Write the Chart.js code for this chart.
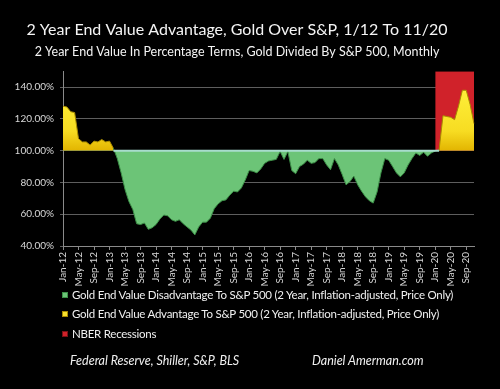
<!DOCTYPE html>
<html>
<head>
<meta charset="utf-8">
<script src="https://cdn.jsdelivr.net/npm/chart.js@4.4.1/dist/chart.umd.min.js"></script>
<style>
  html, body { margin: 0; padding: 0; background: #000; }
  #wrap { position: relative; width: 500px; height: 389px; background: #000; overflow: hidden; }
  #chart { position: absolute; left: 0; top: 0; }
  .leg { position: absolute; left: 62px; font: 11.5px Lato, sans-serif; letter-spacing: -0.25px; color: #f0f0f0; white-space: nowrap; line-height: 14px; }
  .leg i { display: inline-block; width: 6px; height: 6px; margin-right: 4px; vertical-align: 1px; box-sizing: border-box; }
  .foot { position: absolute; top: 353px; font: italic 12.5px Lato, sans-serif; color: #f0f0f0; white-space: nowrap; }
</style>
</head>
<body>
<div id="wrap">
  <canvas id="chart" width="500" height="389"></canvas>
  <div class="leg" style="top:288px"><i style="background:#6cc477;border:1px solid #3c8f47"></i>Gold End Value Disadvantage To S&amp;P 500 (2 Year, Inflation-adjusted, Price Only)</div>
  <div class="leg" style="top:307px"><i style="background:#f7e12e;border:1px solid #a88a00"></i>Gold End Value Advantage To S&amp;P 500 (2 Year, Inflation-adjusted, Price Only)</div>
  <div class="leg" style="top:327px"><i style="background:#d0222a;border:1px solid #7a1015"></i>NBER Recessions</div>
  <div class="foot" style="left:70px">Federal Reserve, Shiller, S&amp;P, BLS</div>
  <div class="foot" style="left:312px">Daniel Amerman.com</div>
</div>
<script>
// months Jan-12 .. Nov-20
var monthNames = ['Jan', 'Feb', 'Mar', 'Apr', 'May', 'Jun', 'Jul', 'Aug', 'Sep', 'Oct', 'Nov', 'Dec'];
var years = ['12', '13', '14', '15', '16', '17', '18', '19', '20'];
var labels = [];
years.forEach(function (y) {
    monthNames.forEach(function (m) { labels.push(m + '-' + y); });
});
labels = labels.slice(0, labels.indexOf('Nov-20') + 1);

// gold / S&P 500 2 year end value, percent
var endValue = [
    128, 127.5, 124.5, 124, 107.5, 105.5, 105.5, 103.5, 106, 105.5, 107, 105.5,
    106, 101.5, 95, 86, 75.5, 68, 63, 54, 53.5, 54.5, 50.5, 51.5,
    53.5, 57, 59.5, 59, 56.5, 55.5, 56.5, 54, 52, 50, 47, 52,
    55, 55, 57.5, 63.5, 66.5, 68.5, 69, 72, 74.5, 74, 76.5, 81.5,
    87.5, 87, 86, 88.5, 92, 93.5, 94, 94.5, 99.5, 94.5, 99.5, 87.5,
    85.5, 90, 91.5, 94, 92, 92.5, 95, 95, 91, 88, 95, 91,
    85, 78.5, 80.5, 84, 78.5, 74.5, 71, 68.5, 67, 74, 86, 95,
    94, 90, 86, 83.5, 86, 91, 95, 98.5, 97, 99, 96.5, 98.5,
    99.8, 100.5, 122, 121.5, 121, 119.5, 128, 138, 138, 129, 117
];

var recessionMonths = ['Jan-20', 'Feb-20', 'Mar-20', 'Apr-20', 'May-20', 'Jun-20', 'Jul-20', 'Aug-20', 'Sep-20', 'Oct-20', 'Nov-20'];
var recessionTop = 150;
var recession = labels.map(function (l) { return recessionMonths.indexOf(l) >= 0 ? recessionTop : null; });

// light edge along 100% under the green area
var evenLine = labels.map(function (l, i) { return (i >= 13 && i <= 97) ? 100 : null; });

var yTicks = [40, 60, 80, 100, 120, 140];

var canvas = document.getElementById('chart');
var ctx = canvas.getContext('2d');
var yellow = ctx.createLinearGradient(0, 85, 0, 151);
yellow.addColorStop(0, '#fff23c');
yellow.addColorStop(0.7, '#f7dc22');
yellow.addColorStop(1, '#e2b400');

var tickFont = { family: "'Liberation Sans Narrow', Lato, sans-serif", size: 10 };

var myChart = new Chart(ctx, {
    type: 'line',
    data: {
        labels: labels,
        datasets: [{
            label: 'Gold End Value',
            data: endValue,
            borderWidth: 1,
            pointRadius: 0,
            tension: 0,
            segment: {
                borderColor: function (c) {
                    return (c.p0.parsed.y < 100 || c.p1.parsed.y < 100) ? '#3c8f47' : '#a88a00';
                }
            },
            fill: { target: { value: 100 }, above: yellow, below: '#6cc477' },
            order: 1
        }, {
            label: 'edge',
            data: evenLine,
            borderColor: '#a8dccd',
            borderWidth: 2,
            pointRadius: 0,
            fill: false,
            order: 0
        }, {
            label: 'NBER Recessions',
            data: recession,
            borderWidth: 0,
            pointRadius: 0,
            backgroundColor: '#d0222a',
            fill: { target: { value: 100 } },
            order: 2
        }]
    },
    options: {
        responsive: false,
        animation: false,
        layout: { padding: { left: 0, right: 26, top: 0, bottom: 103 } },
        plugins: {
            legend: { display: false },
            tooltip: { enabled: false },
            title: {
                display: true,
                text: '2 Year End Value Advantage, Gold Over S&P, 1/12 To 11/20',
                color: '#f4f4f4',
                font: { family: 'Lato, sans-serif', size: 16, weight: 'normal', lineHeight: 1.2 },
                padding: { top: 20, bottom: 3 }
            },
            subtitle: {
                display: true,
                text: '2 Year End Value In Percentage Terms, Gold Divided By S&P 500, Monthly',
                color: '#f4f4f4',
                font: { family: 'Lato, sans-serif', size: 12.5, weight: 'normal', lineHeight: 1.2 },
                padding: { top: 2, bottom: 12 }
            }
        },
        scales: {
            x: {
                type: 'category',
                offset: false,
                afterFit: function (s) { s.height = 40; },
                grid: {
                    drawOnChartArea: false,
                    tickLength: 4,
                    color: function (c) { return c.index % 4 === 0 ? '#8a8a8a' : 'rgba(0,0,0,0)'; }
                },
                border: { color: '#8a8a8a', width: 1 },
                ticks: {
                    autoSkip: false,
                    maxRotation: 90,
                    minRotation: 90,
                    padding: 2,
                    color: '#d8d8d8',
                    font: tickFont,
                    callback: function (v, i) { return i % 4 === 0 ? labels[i] : ''; }
                }
            },
            y: {
                min: 40,
                max: 150,
                afterFit: function (s) { s.width = 63; },
                afterBuildTicks: function (s) { s.ticks = yTicks.map(function (v) { return { value: v }; }); },
                grid: { color: '#5e5e5e', lineWidth: 1, tickLength: 3 },
                border: { color: '#8a8a8a', width: 1 },
                ticks: {
                    padding: 6,
                    color: '#d8d8d8',
                    font: tickFont,
                    callback: function (v) { return v.toFixed(2) + '%'; }
                }
            }
        }
    }
});
</script>
</body>
</html>
